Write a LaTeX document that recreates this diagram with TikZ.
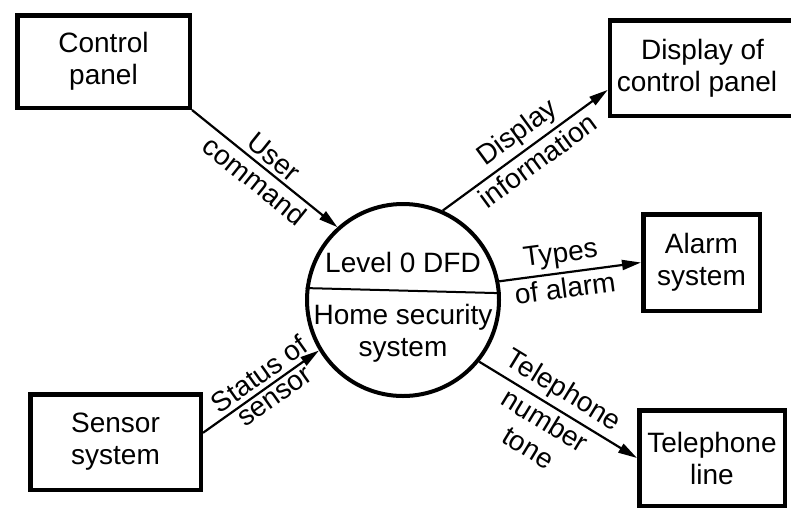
\documentclass[tikz,border=0pt]{standalone}
\usepackage{fontspec}
\setmainfont{Liberation Sans}
\usetikzlibrary{arrows.meta}

\begin{document}
\begin{tikzpicture}[x=1pt,y=-1pt,
  every node/.style={font=\fontsize{28}{32}\selectfont},
  entity/.style={draw, line width=4.5pt, align=center, inner sep=0pt},
  process/.style={draw, circle, line width=4pt, inner sep=0pt, minimum size=192pt},
  flow/.style={line width=2.2pt, -{Triangle[length=19pt,width=10pt]}},
  lbl/.style={sloped, inner sep=4pt, align=center},
  divider/.style={line width=2pt}
]
\fill[white] (0,0) rectangle (791,512);
\useasboundingbox (0,0) rectangle (791,512);

% external entities
\node[entity, minimum width=172.5pt, minimum height=92.5pt] (cp) at (103.5,61.5) {Control\\panel};
\node[entity, minimum width=185pt, minimum height=95.5pt] (disp) at (702.5,68) {Display of\\control panel\hspace*{11pt}};
\node[entity, minimum width=116.5pt, minimum height=96.5pt] (alarm) at (701.5,262.5) {Alarm\\system};
\node[entity, minimum width=145.5pt, minimum height=95.5pt] (tel) at (712,458) {Telephone\\line};
\node[entity, minimum width=170.5pt, minimum height=95.5pt] (sensor) at (115.5,442) {Sensor\\system};

% the single process of the context diagram
\node[process] (dfd) at (403,300) {};
\draw[divider] (dfd.173) -- (dfd.4);
\node (lvl) at (403,262) {Level 0 DFD};
\node[align=center] (home) at (403,333) {Home security\\system};

% data flows
\draw[flow] (cp.south east) -- (dfd.132)
  node[lbl, above, pos=0.5] {User}
  node[lbl, below, pos=0.5] {command};
\draw[flow] (dfd.66) -- (disp.193)
  node[lbl, above, pos=0.52] {Display}
  node[lbl, below, pos=0.52] {information};
\draw[flow] (dfd.11) -- (alarm.west)
  node[lbl, above, pos=0.45] {Types}
  node[lbl, below, pos=0.45] {of alarm};
\draw[flow] (sensor.6) -- (dfd.211)
  node[lbl, above, pos=0.56] {Status of}
  node[lbl, below, pos=0.56] {sensor};
\draw[flow] (dfd.-39) -- (tel.west)
  node[lbl, above, pos=0.47] {Telephone}
  node[lbl, below, pos=0.47] {number\\tone};
\end{tikzpicture}
\end{document}
